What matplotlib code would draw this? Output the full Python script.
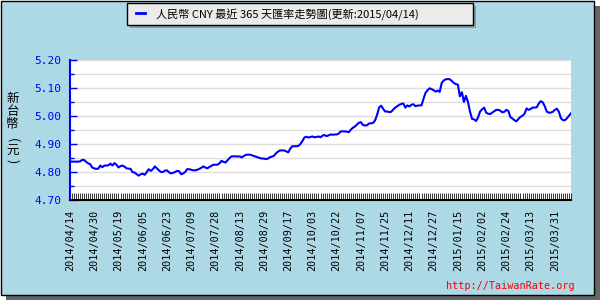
import numpy as np
import matplotlib
matplotlib.use("Agg")
import matplotlib.pyplot as plt
from matplotlib.patches import Rectangle
from matplotlib.lines import Line2D
from matplotlib.ticker import FixedLocator, MultipleLocator, FormatStrFormatter

###############################################################################
# Data (one value per trading day)
###############################################################################
rates = [
    4.838, 4.837, 4.837, 4.837, 4.837, 4.838, 4.843, 4.843, 4.836, 4.831,
    4.828, 4.816, 4.813, 4.811, 4.812, 4.823, 4.817, 4.823, 4.823, 4.824,
    4.830, 4.823, 4.832, 4.826, 4.816, 4.821, 4.823, 4.819, 4.813, 4.812,
    4.811, 4.799, 4.798, 4.792, 4.787, 4.792, 4.794, 4.790, 4.800, 4.810,
    4.804, 4.810, 4.820, 4.813, 4.806, 4.800, 4.800, 4.805, 4.806, 4.799,
    4.795, 4.797, 4.800, 4.804, 4.803, 4.792, 4.795, 4.800, 4.810, 4.810,
    4.808, 4.806, 4.806, 4.808, 4.811, 4.815, 4.820, 4.816, 4.813, 4.818,
    4.822, 4.826, 4.826, 4.826, 4.831, 4.840, 4.836, 4.834, 4.842, 4.850,
    4.856, 4.856, 4.856, 4.855, 4.856, 4.852, 4.857, 4.861, 4.862, 4.862,
    4.860, 4.857, 4.855, 4.852, 4.850, 4.848, 4.848, 4.846, 4.848, 4.853,
    4.855, 4.858, 4.867, 4.873, 4.877, 4.877, 4.877, 4.874, 4.870, 4.883,
    4.892, 4.892, 4.892, 4.893, 4.900, 4.910, 4.923, 4.926, 4.923, 4.925,
    4.927, 4.924, 4.925, 4.927, 4.924, 4.930, 4.932, 4.928, 4.931, 4.934,
    4.933, 4.934, 4.934, 4.937, 4.945, 4.945, 4.945, 4.944, 4.942, 4.951,
    4.958, 4.962, 4.969, 4.976, 4.978, 4.968, 4.966, 4.967, 4.973, 4.974,
    4.975, 4.984, 5.004, 5.030, 5.037, 5.026, 5.016, 5.016, 5.014, 5.015,
    5.023, 5.030, 5.035, 5.040, 5.043, 5.045, 5.030, 5.038, 5.034, 5.040,
    5.042, 5.035, 5.037, 5.038, 5.038, 5.062, 5.083, 5.092, 5.099, 5.096,
    5.092, 5.087, 5.091, 5.086, 5.118, 5.127, 5.131, 5.132, 5.131, 5.125,
    5.118, 5.114, 5.112, 5.070, 5.085, 5.050, 5.072, 5.050, 5.016, 4.990,
    4.988, 4.982, 4.995, 5.016, 5.024, 5.030, 5.012, 5.008, 5.007, 5.012,
    5.017, 5.022, 5.022, 5.019, 5.013, 5.015, 5.022, 5.018, 4.996, 4.991,
    4.985, 4.981, 4.990, 4.997, 5.001, 5.008, 5.027, 5.022, 5.025, 5.030,
    5.030, 5.031, 5.044, 5.053, 5.049, 5.035, 5.016, 5.012, 5.012, 5.015,
    5.022, 5.026, 5.015, 4.992, 4.985, 4.985, 4.992, 5.001, 5.010,
]

dateLabels = [
    "2014/04/14", "2014/04/30", "2014/05/19", "2014/06/05", "2014/06/23",
    "2014/07/09", "2014/07/28", "2014/08/13", "2014/08/29", "2014/09/17",
    "2014/10/03", "2014/10/22", "2014/11/07", "2014/11/25", "2014/12/11",
    "2014/12/27", "2015/01/15", "2015/02/02", "2015/02/24", "2015/03/13",
    "2015/03/31",
]
labelStep = 12  # one date label every 12 trading days

yTicks = [4.70, 4.80, 4.90, 5.00, 5.10, 5.20]

titleText = "人民幣 CNY 最近 365 天匯率走勢圖(更新:2015/04/14)"
yLabelChars = ["新", "台", "幣", "(", "元", ")"]
urlText = "http://TaiwanRate.org"

###############################################################################
# Figure setup
###############################################################################
W, H = 600, 300
CJK = ["Noto Sans CJK TC", "DejaVu Sans"]
MONO = "DejaVu Sans Mono"

def fx(px):
    return px / W

def fy(py):
    return 1 - py / H

fig = plt.figure(figsize=(6, 3), dpi=100)
fig.patch.set_facecolor("white")

# drop shadow + light blue panel with black border
fig.patches.append(Rectangle((fx(6), fy(300)), fx(594), 294 / H,
                             transform=fig.transFigure, facecolor="#666666",
                             edgecolor="none", zorder=0))
fig.patches.append(Rectangle((fx(0.5), fy(295)), fx(593), 294.5 / H,
                             transform=fig.transFigure, facecolor="#add8e6",
                             edgecolor="black", linewidth=1, zorder=1))

ax = fig.add_axes([fx(70), fy(200), 501 / W, 140 / H])
ax.set_facecolor("white")
ax.set_zorder(2)

x = np.arange(len(rates))
ax.plot(x, rates, color="#0000ff", linewidth=1.5, zorder=3)

ax.set_xlim(0, len(rates) - 1)
ax.set_ylim(4.70, 5.20)

# horizontal grid every 0.05
ax.yaxis.set_major_locator(FixedLocator(yTicks))
ax.yaxis.set_minor_locator(MultipleLocator(0.05))
ax.yaxis.set_major_formatter(FormatStrFormatter("%.2f"))
ax.grid(True, which="both", axis="y", color="#dddddd", linewidth=1)
ax.set_axisbelow(True)

ax.spines["top"].set_visible(False)
ax.spines["right"].set_visible(False)
ax.spines["left"].set_color("#0000ff")
ax.spines["left"].set_linewidth(1.5)
ax.spines["bottom"].set_color("black")
ax.spines["bottom"].set_linewidth(1.5)

ax.tick_params(axis="y", which="major", direction="in", length=5, width=1,
               color="#0000ff", labelcolor="#0000ff", labelsize=8, pad=6)
ax.tick_params(axis="y", which="minor", direction="in", length=3, width=1,
               color="#0000ff")
for lab in ax.get_yticklabels():
    lab.set_fontfamily(MONO)

# one small tick per trading day, labels every 12 days
ax.set_xticks([i * labelStep for i in range(len(dateLabels))])
ax.set_xticklabels(dateLabels, rotation=90, fontfamily=MONO, fontsize=7.3,
                   color="black")
ax.xaxis.set_minor_locator(FixedLocator(x))
ax.tick_params(axis="x", which="both", direction="in", length=5, width=0.55,
               color="black", pad=7)

###############################################################################
# Title box (legend style) on top
###############################################################################
fig.patches.append(Rectangle((fx(130), fy(28)), 346 / W, 22 / H,
                             transform=fig.transFigure, facecolor="#8e9ca6",
                             edgecolor="none", zorder=3))
fig.patches.append(Rectangle((fx(127), fy(25)), 346 / W, 22 / H,
                             transform=fig.transFigure, facecolor="#ebebeb",
                             edgecolor="black", linewidth=1, zorder=4))
fig.lines.append(Line2D([fx(136), fx(145)], [fy(12.5), fy(12.5)],
                        transform=fig.transFigure, color="#0000ff",
                        linewidth=2, zorder=5))
fig.text(fx(156), fy(14.5), titleText, family=CJK, fontsize=8,
         ha="left", va="center", zorder=5)

###############################################################################
# Y label written vertically, char by char
###############################################################################
yPos = [98.5, 111.5, 124.5, 140, 151, 161]
for ch, py in zip(yLabelChars, yPos):
    rot = -90 if ch in "()" else 0
    fig.text(fx(12.5), fy(py), ch, family=CJK, fontsize=9, rotation=rot,
             ha="center", va="center")

fig.text(fx(575), fy(286), urlText, family=MONO, fontsize=7.3,
         color="red", ha="right", va="center")

fig.savefig("out.png", dpi=100)
